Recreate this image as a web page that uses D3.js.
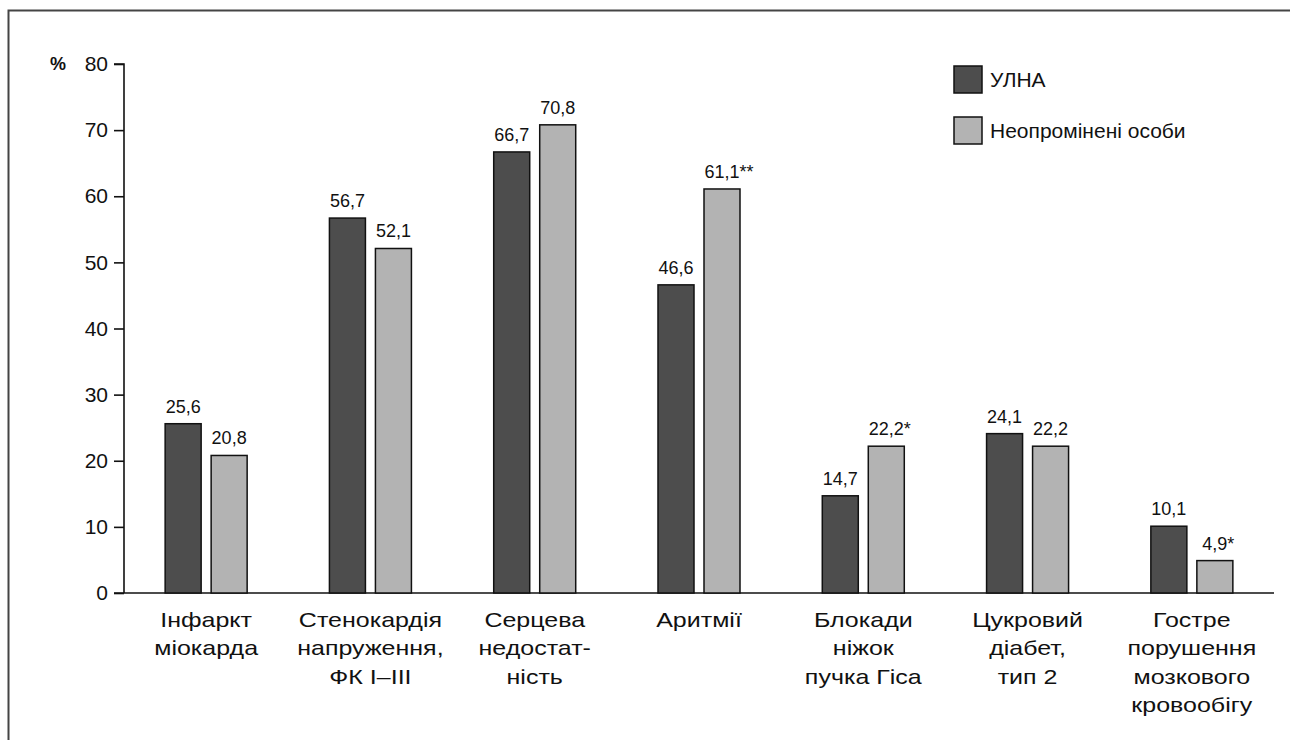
<!DOCTYPE html>
<html>
<head>
<meta charset="utf-8">
<script src="https://cdn.jsdelivr.net/npm/d3@7"></script>
<style>
  html, body { margin: 0; padding: 0; background: #fff; }
  svg { display: block; }
  text { font-family: "Liberation Sans", Arial, Helvetica, sans-serif; fill: #111; }
</style>
</head>
<body>
<svg id="chart" width="1290" height="740"></svg>
<script>
// Categories (multi-line labels) and the two series, in %
const categories = [
  ["Інфаркт", "міокарда"],
  ["Стенокардія", "напруження,", "ФК І–ІІІ"],
  ["Серцева", "недостат-", "ність"],
  ["Аритмії"],
  ["Блокади", "ніжок", "пучка Гіса"],
  ["Цукровий", "діабет,", "тип 2"],
  ["Гостре", "порушення", "мозкового", "кровообігу"]
];
const seriesNames = ["УЛНА", "Неопромінені особи"];
const ulnaValues = [25.6, 56.7, 66.7, 46.6, 14.7, 24.1, 10.1];
const controlValues = [20.8, 52.1, 70.8, 61.1, 22.2, 22.2, 4.9];
// significance marks printed after the control value
const controlMarks = ["", "", "", "**", "*", "", "*"];
const yTicks = [0, 10, 20, 30, 40, 50, 60, 70, 80];
const seriesColors = ["#4d4d4d", "#b3b3b3"];

const fmt = v => String(v).replace(".", ",");

const svg = d3.select("#chart");

// outer frame
svg.append("rect")
  .attr("x", 8.5).attr("y", 10.5)
  .attr("width", 1300).attr("height", 760)
  .attr("fill", "none").attr("stroke", "#444").attr("stroke-width", 2);

const x = d3.scaleBand()
  .domain(d3.range(categories.length))
  .range([124, 1274])
  .padding(0);

const y = d3.scaleLinear().domain([0, 80]).range([593, 64]);

const barW = 36, barGap = 10;

// y axis
const yAxis = d3.axisLeft(y).tickValues(yTicks).tickSize(10).tickPadding(6).tickFormat(d => d);
const gy = svg.append("g").attr("transform", "translate(124,0)").call(yAxis);
gy.select(".domain").attr("d", `M-10,${y(80)}H0V${y(0)}`).attr("stroke", "#111").attr("stroke-width", 1.6);
gy.selectAll(".tick line").attr("stroke", "#111").attr("stroke-width", 1.6);
gy.selectAll(".tick text")
  .attr("font-size", 21).attr("fill", "#111")
  .style("font-family", "'Liberation Sans', Arial, sans-serif");

svg.append("text")
  .attr("x", 50).attr("y", y(80)).attr("dy", "0.32em")
  .attr("font-size", 18).attr("font-weight", "bold")
  .text("%");

// x baseline
svg.append("line")
  .attr("x1", 114).attr("x2", 1274)
  .attr("y1", y(0)).attr("y2", y(0))
  .attr("stroke", "#111").attr("stroke-width", 1.6);

const rows = categories.map((c, i) => ({
  i, label: c,
  vals: [
    { s: 0, v: ulnaValues[i], mark: "" },
    { s: 1, v: controlValues[i], mark: controlMarks[i] }
  ]
}));

const groups = svg.append("g").selectAll("g")
  .data(rows).join("g")
  .attr("transform", d => `translate(${x(d.i) + x.bandwidth() / 2},0)`);

groups.selectAll("rect")
  .data(d => d.vals).join("rect")
  .attr("x", d => d.s === 0 ? -barGap / 2 - barW : barGap / 2)
  .attr("y", d => y(d.v))
  .attr("width", barW)
  .attr("height", d => y(0) - y(d.v))
  .attr("fill", d => seriesColors[d.s])
  .attr("stroke", "#111").attr("stroke-width", 1.5);

groups.selectAll("text.val")
  .data(d => d.vals).join("text")
  .attr("class", "val")
  .attr("x", d => (d.s === 0 ? -barGap / 2 - barW / 2 : barGap / 2 + barW / 2) + (d.mark ? d.mark.length * 3.5 : 0))
  .attr("y", d => y(d.v) - 11)
  .attr("text-anchor", "middle")
  .attr("font-size", 18)
  .text(d => fmt(d.v) + d.mark);

// category labels: slightly widened type, centred under each pair of bars
groups.append("text")
  .attr("class", "cat")
  .attr("text-anchor", "middle")
  .attr("font-size", 21)
  .attr("transform", "scale(1.19,1)")
  .selectAll("tspan")
  .data(d => d.label).join("tspan")
  .attr("x", 0)
  .attr("y", (d, j) => 627 + j * 28.3)
  .text(d => d);

// legend
const legend = svg.append("g").attr("transform", "translate(954,66)");
const li = legend.selectAll("g").data(seriesNames).join("g")
  .attr("transform", (d, i) => `translate(0,${i * 51})`);
li.append("rect")
  .attr("width", 28).attr("height", 27)
  .attr("fill", (d, i) => seriesColors[i])
  .attr("stroke", "#111").attr("stroke-width", 1.5);
li.append("text")
  .attr("x", 36).attr("y", 14).attr("dy", "0.35em")
  .attr("font-size", 21)
  .text(d => d);
</script>
</body>
</html>
